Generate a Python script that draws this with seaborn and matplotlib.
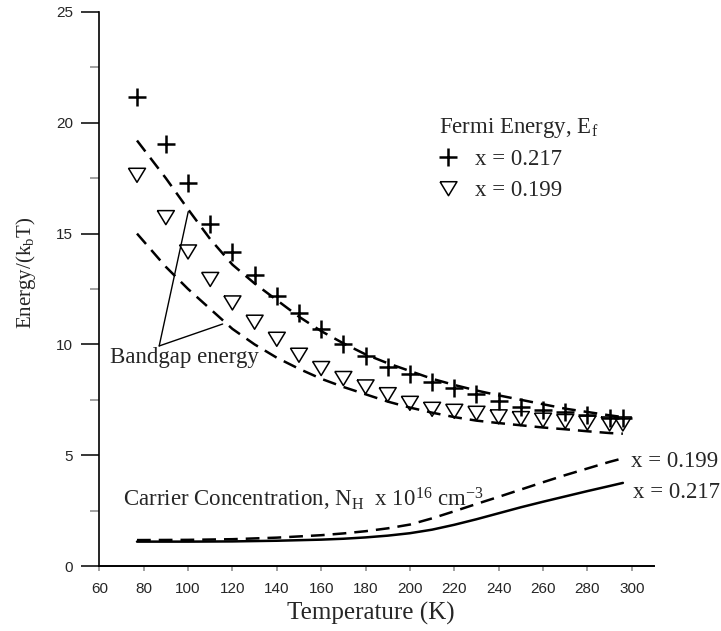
import numpy as np
import pandas as pd
import matplotlib
matplotlib.use("Agg")
import matplotlib.pyplot as plt
import seaborn as sns
from matplotlib.lines import Line2D
from matplotlib.ticker import MultipleLocator

# ---------------- data ----------------
temp_fermi = [77, 90, 100, 110, 120, 130, 140, 150, 160, 170, 180, 190,
              200, 210, 220, 230, 240, 250, 260, 270, 280, 290, 296]
fermi_x217 = [21.15, 19.04, 17.3, 15.43, 14.16, 13.12, 12.2, 11.4, 10.7, 10.0,
              9.48, 8.99, 8.68, 8.32, 8.02, 7.76, 7.43, 7.19, 7.04, 6.96, 6.81,
              6.68, 6.66]
fermi_x199 = [17.64, 15.73, 14.18, 12.94, 11.88, 11.01, 10.24, 9.52, 8.92, 8.47,
              8.09, 7.74, 7.35, 7.08, 6.99, 6.9, 6.74, 6.66, 6.59, 6.53, 6.46,
              6.42, 6.42]

temp_gap = [77, 90, 100, 110, 120, 130, 140, 150, 160, 170, 180, 190,
            200, 210, 220, 230, 240, 250, 260, 270, 280, 290, 296]
gap_x217 = [19.2, 17.5, 16.1, 14.75, 13.6, 12.75, 12.0, 11.25, 10.6, 10.05,
            9.55, 9.15, 8.8, 8.45, 8.17, 7.92, 7.7, 7.5, 7.3, 7.1, 6.95, 6.8, 6.72]
gap_x199 = [15.0, 13.5, 12.5, 11.6, 10.7, 10.0, 9.4, 8.9, 8.45, 8.08, 7.75,
            7.42, 7.15, 6.92, 6.72, 6.56, 6.45, 6.35, 6.25, 6.17, 6.08, 6.0, 5.97]

temp_carrier = [77, 100, 120, 140, 160, 170, 180, 190, 200, 210, 220, 230, 240,
                250, 260, 270, 280, 290, 296]
carrier_x217 = [1.1, 1.1, 1.11, 1.14, 1.19, 1.23, 1.29, 1.37, 1.48, 1.64, 1.86,
                2.11, 2.38, 2.65, 2.9, 3.14, 3.38, 3.61, 3.75]
carrier_x199 = [1.17, 1.18, 1.21, 1.28, 1.39, 1.47, 1.57, 1.7, 1.87, 2.15, 2.47,
                2.8, 3.12, 3.45, 3.78, 4.1, 4.4, 4.7, 4.86]

# pointer lines for the "Bandgap energy" annotation (T, E)
pointer_T = [100.1, 87.0, 115.6]
pointer_E = [15.99, 9.93, 10.92]

x_ticks = [60, 80, 100, 120, 140, 160, 180, 200, 220, 240, 260, 280, 300]
y_ticks = [0, 5, 10, 15, 20, 25]

# ---------------- style ----------------
sns.set_style("white")
plt.rcParams["font.family"] = ["Liberation Serif", "DejaVu Serif"]
plt.rcParams["mathtext.fontset"] = "custom"
plt.rcParams["mathtext.rm"] = "Liberation Serif"
plt.rcParams["mathtext.it"] = "Liberation Serif:italic"
plt.rcParams["mathtext.bf"] = "Liberation Serif:bold"

TXT = 16.5
fig = plt.figure(figsize=(7.21, 6.31), dpi=100)
ax = fig.add_axes([0.1377, 0.103, 0.7693, 0.878])

dash = (0, (5.5, 3.2))
df_gap = pd.DataFrame({"T": temp_gap, "g217": gap_x217, "g199": gap_x199})
df_f = pd.DataFrame({"T": temp_fermi, "f217": fermi_x217, "f199": fermi_x199})
df_c = pd.DataFrame({"T": temp_carrier, "c217": carrier_x217, "c199": carrier_x199})

sns.lineplot(data=df_gap, x="T", y="g217", ax=ax, color="black", lw=1.8,
             linestyle=dash, sort=False)
sns.lineplot(data=df_gap, x="T", y="g199", ax=ax, color="black", lw=1.8,
             linestyle=dash, sort=False)
sns.lineplot(data=df_c, x="T", y="c199", ax=ax, color="black", lw=1.8,
             linestyle=dash, sort=False)
sns.lineplot(data=df_c, x="T", y="c217", ax=ax, color="black", lw=1.8,
             sort=False)

tri = [(-1.0, 0.8), (1.0, 0.8), (0.0, -0.85), (-1.0, 0.8)]
sns.scatterplot(data=df_f, x="T", y="f217", ax=ax, marker="+", s=165,
                color="black", linewidth=1.8, zorder=3)
sns.scatterplot(data=df_f, x="T", y="f199", ax=ax, marker=tri, s=150,
                facecolor="none", edgecolor="black", linewidth=1.1, zorder=3)

ax.plot(pointer_T[:2], pointer_E[:2], color="black", lw=1.0)
ax.plot(pointer_T[1:], pointer_E[1:], color="black", lw=1.0)

# ---------------- axes ----------------
ax.set_xlim(60, 310)
ax.set_ylim(0, 25)
ax.set_xticks(x_ticks)
ax.set_yticks(y_ticks)
ax.yaxis.set_minor_locator(MultipleLocator(2.5))
for s in ["top", "right"]:
    ax.spines[s].set_visible(False)
ax.spines["left"].set_linewidth(1.2)
ax.spines["bottom"].set_linewidth(1.4)
ax.spines["left"].set_color("black")
ax.spines["bottom"].set_color("black")
ax.tick_params(axis="y", which="major", direction="out", length=13, width=1.1,
               color="black", pad=6, left=True)
ax.tick_params(axis="y", which="minor", direction="out", length=6.5, width=1.1,
               color="#888888", left=True)
ax.tick_params(axis="x", which="major", direction="out", length=3.5, width=1.1,
               color="#888888", pad=8, bottom=True)
for lab in ax.get_xticklabels() + ax.get_yticklabels():
    lab.set_fontfamily("Liberation Sans")
    lab.set_fontsize(11)

ax.set_xlabel("Temperature (K)", fontsize=18)
ax.set_ylabel("Energy/(k$_\\mathrm{b}$T)", fontsize=15)
ax.yaxis.set_label_coords(-0.1105, 0.529)
ax.xaxis.set_label_coords(0.49, -0.065)

# ---------------- texts ----------------
ax.text(65, 9.15, "Bandgap energy", fontsize=TXT, ha="left", va="baseline")
ax.text(70.8, 2.68,
        "Carrier Concentration, N$_\\mathrm{H}$  x 10$^{\\mathrm{16}}$ cm$^{\\mathrm{-3}}$",
        fontsize=TXT, ha="left", va="baseline")
ax.text(299.7, 4.48, "x = 0.199", fontsize=TXT, ha="left", va="baseline",
        clip_on=False)
ax.text(300.4, 3.05, "x = 0.217", fontsize=TXT, ha="left", va="baseline",
        clip_on=False)

handles = [
    Line2D([], [], ls="none", marker="+", markersize=12.8, mew=1.8, color="black"),
    Line2D([], [], ls="none", marker=tri, markersize=12.2, mew=1.1,
           markerfacecolor="none", markeredgecolor="black"),
]
leg = ax.legend(handles, ["x = 0.217", "x = 0.199"],
                title="Fermi Energy, E$_\\mathrm{f}$",
                loc="upper left", bbox_to_anchor=(0.613, 0.812),
                frameon=False, fontsize=TXT, title_fontsize=TXT,
                alignment="left", handlelength=0.8, handletextpad=0.75,
                labelspacing=0.4, borderpad=0, borderaxespad=0)

fig.savefig("out.png", dpi=100)
